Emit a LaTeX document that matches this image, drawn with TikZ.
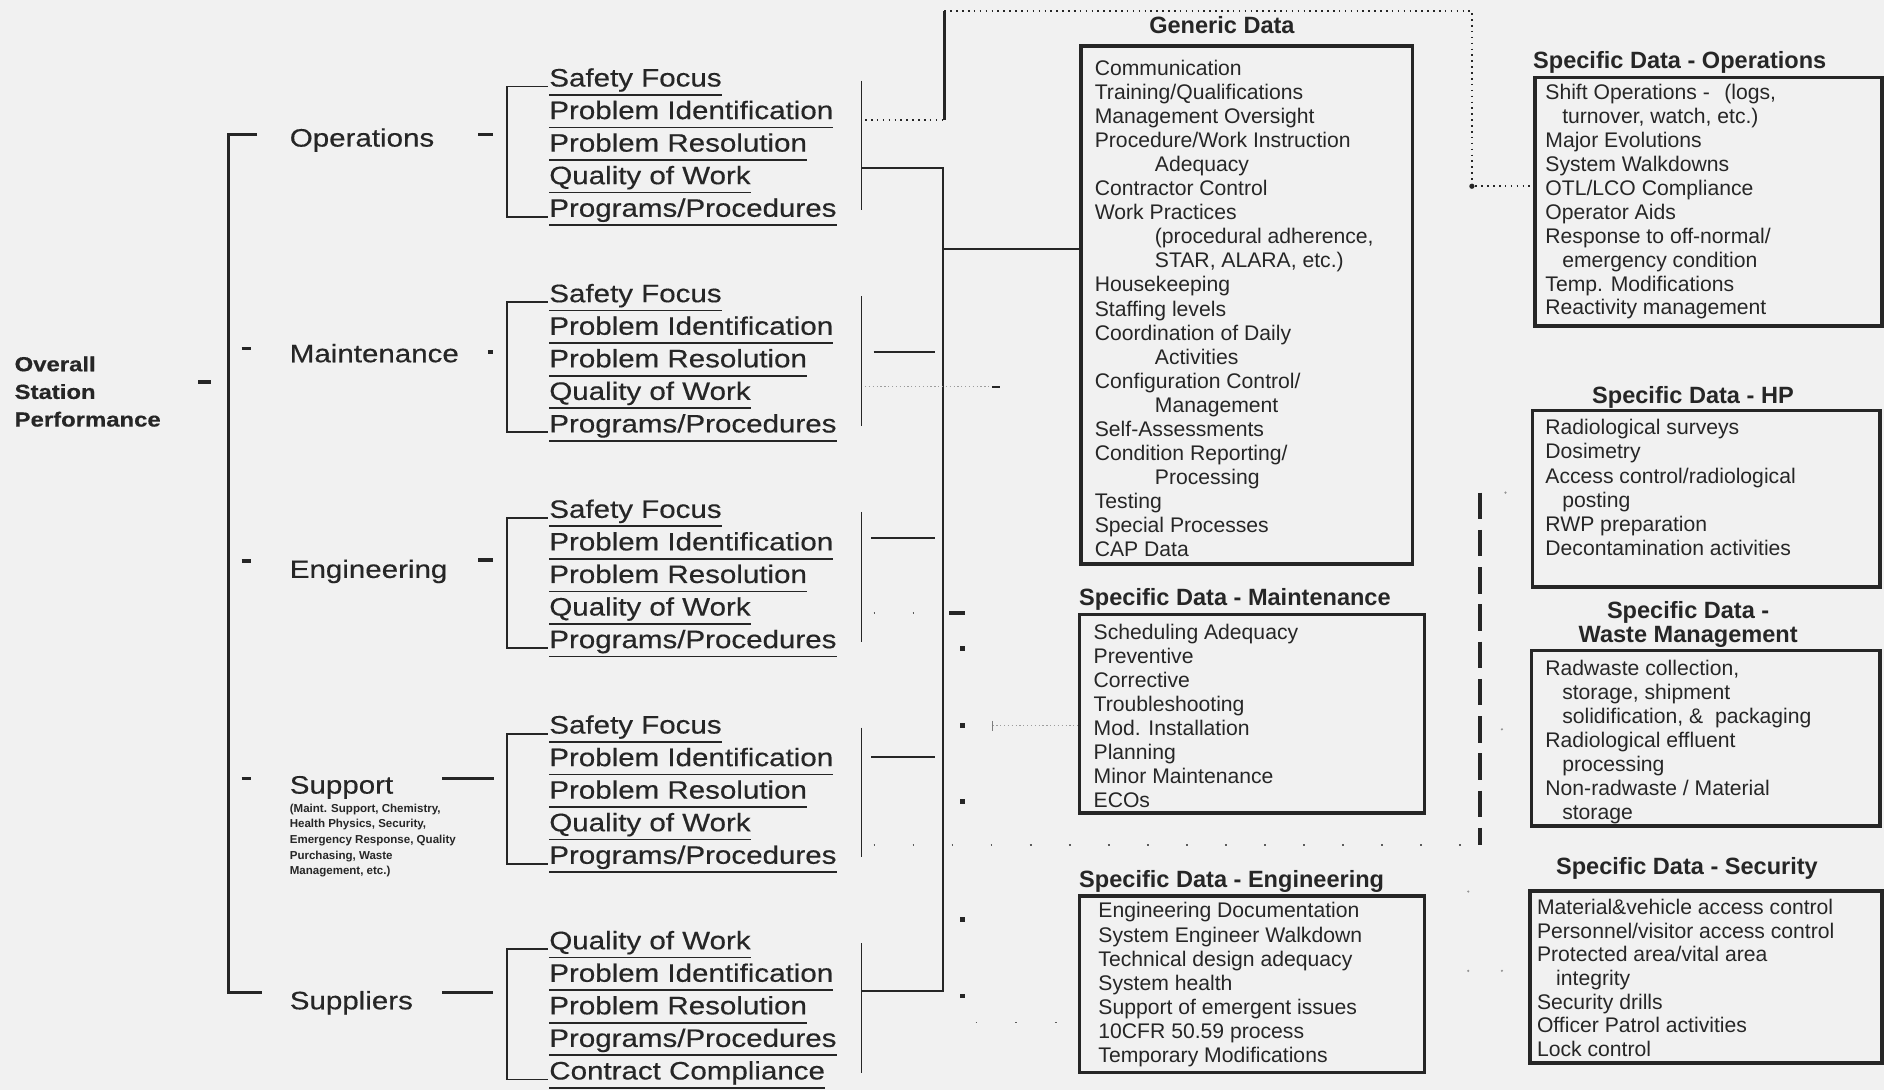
\documentclass[tikz,border=0pt]{standalone}
\usepackage{fontspec}
\setmainfont{Liberation Sans}
\newfontfamily\widefont[FakeStretch=1.17,FakeBold=0.4]{Liberation Sans}
\usetikzlibrary{calc}
\definecolor{bg}{RGB}{241,241,241}
\definecolor{ink}{RGB}{38,38,38}
\newcommand\gdind{\hspace*{50pt}}
\newcommand\spind{\hspace*{14pt}}
\tikzset{
  ln/.style={draw=ink, line width=1.6pt},
  uline/.style={draw=ink, line width=1.4pt},
  tick/.style={draw=ink, line width=3pt},
  thick3/.style={draw=ink, line width=3pt},
  dotd/.style={draw=ink, line width=1.5pt, dash pattern=on 1.3pt off 3.6pt},
  sparse/.style={draw=ink!75, line width=1.6pt, dash pattern=on 1.5pt off 31pt},
  faint/.style={draw=ink!45, line width=1pt, dash pattern=on 1pt off 2.2pt},
  bigdash/.style={draw=ink, line width=3.5pt, dash pattern=on 22pt off 9pt},
  ovl/.style={anchor=base west, inner sep=0, text=ink, font=\widefont\bfseries\fontsize{17}{19}\selectfont},
  lbl/.style={anchor=base west, inner sep=0, text=ink, font=\widefont\fontsize{21}{24}\selectfont},
  tiny/.style={anchor=base west, inner sep=0, text=ink, font=\bfseries\fontsize{9.6}{11}\selectfont},
  item/.style={anchor=base west, inner sep=0, text=ink, font=\widefont\fontsize{21}{24}\selectfont},
  btxt/.style={anchor=base west, inner sep=0, text=ink, font=\fontsize{17.6}{20}\selectfont},
  ttl/.style={anchor=base, inner sep=0, text=ink, font=\bfseries\fontsize{19.6}{22}\selectfont},
  ttll/.style={anchor=base west, inner sep=0, text=ink, font=\bfseries\fontsize{19.6}{22}\selectfont},
  boxst/.style={draw=ink, line width=3pt, anchor=north west, inner sep=0, fill=none}
}
% group of five sub-items with bracket and right bar
\newcommand\grp[7]{%
  \foreach \t [count=\i from 0] in {#3,#4,#5,#6,#7}{%
    \node[item] (#1-\i) at (457,{#2+27.1*\i}) {\t};
    \draw[uline] ($(#1-\i.base west)+(0,7)$) -- ($(#1-\i.base east)+(0,7)$);
  }
  \draw[ln] ([xshift=-1pt]#1-0.base west) -- ++(-34,0) |- ([xshift=-1pt]#1-4.base west);
  \coordinate (#1-rt) at (717,{#2-5});
  \coordinate (#1-rb) at (717,{#2+103});
  \draw[ln] (#1-rt) -- (#1-rb);
}
\begin{document}
\begin{tikzpicture}[x=1pt,y=-1pt]
\fill[bg] (0,0) rectangle (1568,907);
\useasboundingbox (0,0) rectangle (1568,907);

% ---------- left column ----------
\node[ovl] (ov1) at (12,309) {Overall};
\node[ovl] (ov2) at (12,332) {Station};
\node[ovl] (ov3) at (12,355) {Performance};
\coordinate (ovd1) at (165,318); \coordinate (ovd2) at (176,318);
\draw[tick] (ovd1) -- (ovd2);

% main bracket
\coordinate (mb-t0) at (214,112); \coordinate (mb-t) at (190,112);
\coordinate (mb-b) at (190,826);  \coordinate (mb-b0) at (218,826);
\draw[ln, line width=2.2pt] (mb-t0) -- (mb-t) -- (mb-b) -- (mb-b0);

% department labels
\node[lbl] (ops) at (241,122) {Operations};
\node[lbl] (mnt) at (241,301.5) {Maintenance};
\node[lbl] (eng) at (241,481) {Engineering};
\node[lbl] (sup) at (241,660.5) {Support};
\node[lbl] (spl) at (241,840) {Suppliers};
\node[tiny] (sup1) at (241,676) {(Maint. Support, Chemistry,};
\node[tiny] (sup2) at (241,689) {Health Physics, Security,};
\node[tiny] (sup3) at (241,702) {Emergency Response, Quality};
\node[tiny] (sup4) at (241,715) {Purchasing, Waste};
\node[tiny] (sup5) at (241,728) {Management, etc.)};

% small dashes before labels
\draw[tick] (201,290) -- (209,290);
\draw[tick] (201,467) -- (209,467);
\draw[tick] (201,648) -- (209,648);
% dashes after labels
\draw[tick] (398,112) -- (410,112);
\draw[tick] (406,293) -- (410,293);
\draw[tick] (398,466) -- (410,466);
\draw[tick] (368,648) -- (411,648);
\draw[tick] (368,826) -- (410,826);

% ---------- sub-item groups ----------
\grp{gop}{72}{Safety Focus}{Problem Identification}{Problem Resolution}{Quality of Work}{Programs/Procedures}
\grp{gmn}{251.5}{Safety Focus}{Problem Identification}{Problem Resolution}{Quality of Work}{Programs/Procedures}
\grp{gen}{431}{Safety Focus}{Problem Identification}{Problem Resolution}{Quality of Work}{Programs/Procedures}
\grp{gsu}{610.5}{Safety Focus}{Problem Identification}{Problem Resolution}{Quality of Work}{Programs/Procedures}
\grp{gsp}{790}{Quality of Work}{Problem Identification}{Problem Resolution}{Programs/Procedures}{Contract Compliance}

% ---------- trunk and connectors ----------
\coordinate (tr-t) at (785,140);
\coordinate (tr-b) at (785,825);
\draw[ln] (717,140) -- (tr-t) -- (tr-b) -- (717,825);
\coordinate (tg) at (785,207);

% short stubs
\draw[ln] (727,293) -- (778,293);
\draw[ln] (725,448) -- (778,448);
\draw[ln] (725,630) -- (778,630);

% ---------- boxes ----------
% Generic Data
\node[ttl] (gdt) at (1017,28) {Generic Data};
\node[boxst, minimum width=276pt, minimum height=431pt] (gd) at (898,37) {};
\foreach \t [count=\i from 0] in {Communication,Training/Qualifications,Management Oversight,Procedure/Work Instruction,\gdind Adequacy,Contractor Control,Work Practices,{\gdind (procedural adherence,},{\gdind STAR, ALARA, etc.)},Housekeeping,Staffing levels,Coordination of Daily,\gdind Activities,Configuration Control/,\gdind Management,Self-Assessments,Condition Reporting/,\gdind Processing,Testing,Special Processes,CAP Data}
  \node[btxt] (gd-\i) at (911,{63+20*\i}) {\t};
\draw[ln] (tg) -- (tg -| gd.west);

% Specific Data - Operations
\node[ttl] (sot) at (1398,57) {Specific Data - Operations};
\node[boxst, minimum width=289pt, minimum height=207pt] (so) at (1276,63) {};
\foreach \t [count=\i from 0] in {{Shift Operations -\hspace{12pt}(logs,},{\spind turnover, watch, etc.)},Major Evolutions,System Walkdowns,OTL/LCO Compliance,Operator Aids,Response to off-normal/,\spind emergency condition,Temp. Modifications,Reactivity management}
  \node[btxt] (so-\i) at (1286,{83+19.9*\i}) {\t};

% Specific Data - HP
\node[ttl] (hpt) at (1409,336) {Specific Data - HP};
\node[boxst, minimum width=289pt, minimum height=147pt] (hp) at (1274,340) {};
\foreach \t [count=\i from 0] in {Radiological surveys,Dosimetry,Access control/radiological,\spind posting,RWP preparation,Decontamination activities}
  \node[btxt] (hp-\i) at (1286,{362+20*\i}) {\t};

% Specific Data - Waste Management
\node[ttl] (wmt1) at (1405,515) {Specific Data -};
\node[ttl] (wmt2) at (1405,535) {Waste Management};
\node[boxst, minimum width=290pt, minimum height=146pt] (wm) at (1273,540) {};
\foreach \t [count=\i from 0] in {{Radwaste collection,},{\spind storage, shipment},{\spind solidification, \&\ \ packaging},Radiological effluent,\spind processing,Non-radwaste / Material,\spind storage}
  \node[btxt] (wm-\i) at (1286,{562+20*\i}) {\t};

% Specific Data - Security
\node[ttl] (sct) at (1404,728) {Specific Data - Security};
\node[boxst, minimum width=293pt, minimum height=143pt] (sc) at (1272,740) {};
\foreach \t [count=\i from 0] in {Material\&vehicle access control,Personnel/visitor access control,Protected area/vital area,\hspace*{16pt}integrity,Security drills,Officer Patrol activities,Lock control}
  \node[btxt] (sc-\i) at (1279,{761+19.7*\i}) {\t};

% Specific Data - Maintenance
\node[ttll] (smt) at (898,504) {Specific Data - Maintenance};
\node[boxst, minimum width=287pt, minimum height=165pt] (sm) at (897,510) {};
\foreach \t [count=\i from 0] in {Scheduling Adequacy,Preventive,Corrective,Troubleshooting,Mod. Installation,Planning,Minor Maintenance,ECOs}
  \node[btxt] (sm-\i) at (910,{532+20*\i}) {\t};

% Specific Data - Engineering
\node[ttll] (set) at (898,739) {Specific Data - Engineering};
\node[boxst, minimum width=287pt, minimum height=147pt] (se) at (897,744) {};
\foreach \t [count=\i from 0] in {Engineering Documentation,System Engineer Walkdown,Technical design adequacy,System health,Support of emergent issues,10CFR 50.59 process,Temporary Modifications}
  \node[btxt] (se-\i) at (914,{764+20*\i}) {\t};

% ---------- dotted / dashed links ----------
% operations dotted route to Specific Data - Operations
\coordinate (od-a) at (720,100);
\coordinate (od-b) at (786,100);
\coordinate (od-c) at (786,9);
\coordinate (od-d) at (1225,9);
\coordinate (od-e) at (1225,155);
\draw[dotd] (od-a) -- (od-b);
\draw[thick3] (od-b) -- (od-c);
\draw[dotd] (od-c) -- (od-d) -- (od-e) -- (od-e -| so.west);
\fill[ink] (1225,155) circle (2.2pt);

% maintenance faint dotted
\draw[faint] (720,322) -- (828,322);
\draw[tick, line width=2pt] (826,322) -- (832,322);

% engineering dotted marks
\draw[sparse, dash pattern=on 1.5pt off 31pt] (727,510) -- (765,510);
\draw[thick3] (790,510) -- (803,510);
\foreach \yy in {540,604,667,765,829}
  \fill[ink] (799,\yy-2) rectangle (803,\yy+2);
\draw[faint] (826,604) -- (897,604);
\draw[ink!60, line width=1pt] (826,600) -- (826,608);

% support dotted link to the dashed bar
\coordinate (dv-t) at (1232,410);
\coordinate (dv-b) at (1232,703);
\draw[sparse] (727,703) -- (dv-b);
\draw[bigdash] (dv-t) -- (dv-b);

% suppliers dotted marks
\draw[sparse, dash pattern=on 1.5pt off 31.5pt] (812,851) -- (880,851);

% faint scan marks near the right column
\fill[ink!50] (1253,410) circle (1pt);
\fill[ink!50] (1250,607) circle (1pt);
\fill[ink!50] (1222,742) circle (1pt);
\fill[ink!50] (1222,808) circle (1pt);
\fill[ink!50] (1250,808) circle (1pt);
\end{tikzpicture}
\end{document}
